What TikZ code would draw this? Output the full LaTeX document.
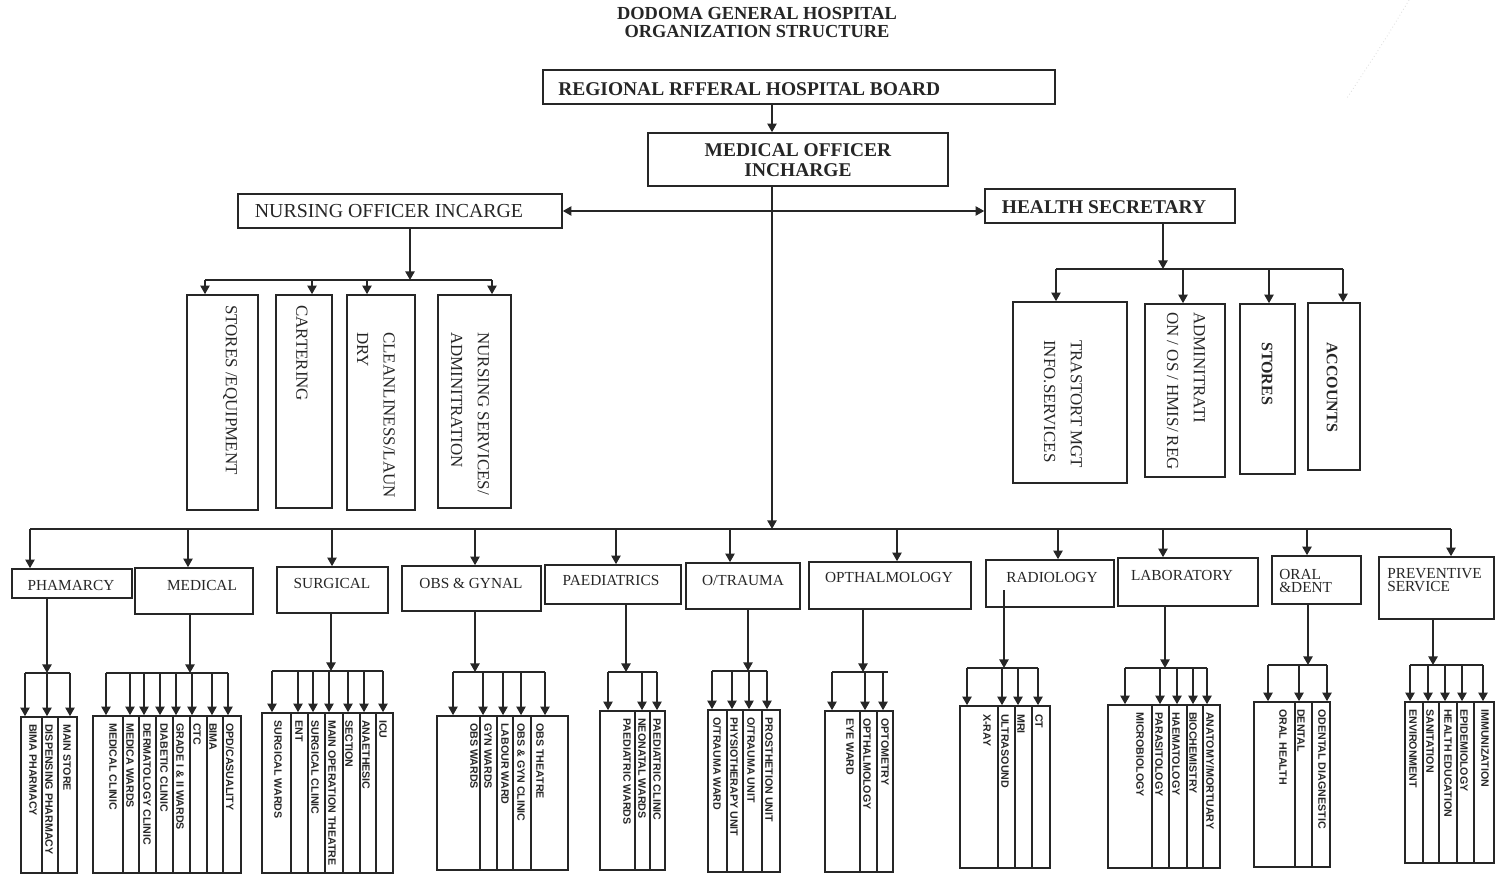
\documentclass[tikz,border=0pt]{standalone}
\usepackage{fontspec}
\setmainfont{Liberation Serif}
\newfontfamily\unitfont{Liberation Sans}
\usetikzlibrary{arrows.meta,fit}
\definecolor{ink}{HTML}{262626}

\begin{document}
\begin{tikzpicture}[x=0.75pt,y=0.75pt,yscale=-1,xscale=1,
  ln/.style={draw=ink,line width=1.2pt},
  arr/.style={ln,-{Triangle[length=6.5pt,width=7pt]}},
  dbl/.style={ln,{Triangle[length=6.5pt,width=7pt]}-{Triangle[length=6.5pt,width=7pt]}},
  box/.style={ln,inner sep=0pt,rectangle},
  head/.style={text=ink,inner sep=0pt,font=\fontsize{14.6}{15}\selectfont\bfseries},
  dept/.style={text=ink,inner sep=0pt,font=\fontsize{11.5}{10}\selectfont},
  vlbl/.style={text=ink,rotate=-90,anchor=west,align=left,inner sep=0pt,font=\fontsize{12.7}{20}\selectfont},
  unit/.style={text=ink,rotate=-90,anchor=west,inner sep=0pt,font=\unitfont\bfseries\fontsize{8}{9}\selectfont}]
%set diagram left start at 0, and has height of 877
\path[use as bounding box] (0,0) rectangle (1495,877);

% Text Node
\node[head,align=center,font=\fontsize{13.8}{13.5}\selectfont\bfseries] (title) at (757,23) {DODOMA GENERAL HOSPITAL\\ORGANIZATION STRUCTURE};
%faint pen mark
\draw[gray!30,line width=0.6pt,dotted] (1409,0) .. controls (1385,40) .. (1347,98);

%Shape: Rectangle [board]
\node[box,fit={(543,70) (1055,104)}] (board) {};
\node[head,anchor=west] (boardt) at (558,89) {REGIONAL RFFERAL HOSPITAL BOARD};
%Shape: Rectangle [medical officer]
\node[box,fit={(648,133) (948,186)}] (mo) {};
\node[head,align=center] (mot) at (798,160) {MEDICAL OFFICER\\INCHARGE};
%Shape: Rectangle [nursing officer]
\node[box,fit={(238,194) (562,228)}] (noic) {};
\node[text=ink,inner sep=0pt,font=\fontsize{14.9}{15}\selectfont] (noict) at (389,211) {NURSING OFFICER INCARGE};
%Shape: Rectangle [health secretary]
\node[box,fit={(985,189) (1235,223)}] (hs) {};
\node[head] (hst) at (1104,207) {HEALTH SECRETARY};

%Straight Lines [top]
\draw[arr] (772,0 |- board.south) -- (772,0 |- mo.north);
\draw[dbl] (noic.east |- 0,211) -- (hs.west |- 0,211);
\draw[arr] (772,0 |- mo.south) -- (772,529);

%Nursing side
\node[box,fit={(187,295) (258,510)}] (nu1) {};
\node[box,fit={(276,295) (332,508)}] (nu2) {};
\node[box,fit={(347,295) (415,510)}] (nu3) {};
\node[box,fit={(438,295) (511,508)}] (nu4) {};
\node[vlbl] (nu1t) at (230,305) {STORES /EQUIPMENT};
\node[vlbl] (nu2t) at (302,305) {CARTERING};
\node[vlbl] (nu3t) at (376,332) {CLEANLINESS/LAUN\\DRY};
\node[vlbl] (nu4t) at (470,332) {NURSING SERVICES/\\ADMINITRATION};
\draw[arr] (410,0 |- noic.south) -- (410,280);
\draw[ln] (205,280) -- (492,280);
\foreach \x [count=\i] in {205,312,367,492}
  \draw[arr] (\x,280) -- (\x,0 |- nu\i.north);

%Health secretary side
\node[box,fit={(1013,302) (1127,483)}] (hs1) {};
\node[box,fit={(1145,304) (1225,477)}] (hs2) {};
\node[box,fit={(1240,304) (1295,474)}] (hs3) {};
\node[box,fit={(1308,303) (1360,470)}] (hs4) {};
\node[vlbl] (hs1t) at (1063,340) {TRASTORT MGT\\INFO.SERVICES};
\node[vlbl] (hs2t) at (1186,312) {ADMINITRATI\\ON / OS / HMIS/ REG};
\node[vlbl,font=\fontsize{12}{20}\selectfont\bfseries] (hs3t) at (1267,342) {STORES};
\node[vlbl,font=\fontsize{12}{20}\selectfont\bfseries] (hs4t) at (1332,342) {ACCOUNTS};
\draw[arr] (1163,0 |- hs.south) -- (1163,269);
\draw[ln] (1056,269) -- (1343,269);
\foreach \x [count=\i] in {1056,1183,1269,1343}
  \draw[arr] (\x,269) -- (\x,0 |- hs\i.north);

%Departments
\node[box,fit={(12,569) (132,598)}] (pham) {};
\node[box,fit={(135,568) (253,614)}] (med) {};
\node[box,fit={(277,567) (388,613)}] (surg) {};
\node[box,fit={(402,566) (541,611)}] (obs) {};
\node[box,fit={(545,565) (681,604)}] (paed) {};
\node[box,fit={(686,563) (800,609)}] (otra) {};
\node[box,fit={(809,562) (971,609)}] (opth) {};
\node[box,fit={(986,560) (1114,607)}] (radio) {};
\node[box,fit={(1118,558) (1258,606)}] (lab) {};
\node[box,fit={(1272,556) (1361,604)}] (oral) {};
\node[box,fit={(1379,557) (1494,619)}] (prev) {};
% Text Node
\node[dept] (phamt) at (71,585) {PHAMARCY};
\node[dept] (medt) at (202,585) {MEDICAL};
\node[dept] (surgt) at (332,583) {SURGICAL};
\node[dept] (obst) at (471,583) {OBS \& GYNAL};
\node[dept] (paedt) at (611,580) {PAEDIATRICS};
\node[dept] (otrat) at (743,580) {O/TRAUMA};
\node[dept] (optht) at (889,577) {OPTHALMOLOGY};
\node[dept] (radiot) at (1052,577) {RADIOLOGY};
\node[dept] (labt) at (1182,575) {LABORATORY};
\node[dept,anchor=west,align=left] (oralt) at (1279,581) {ORAL\\\&DENT};
\node[dept,anchor=west,align=left] (prevt) at (1387,580) {PREVENTIVE\\SERVICE};
%Straight Lines [main bus]
\draw[ln] (30,529) -- (1451,529);
\foreach \x/\d in {30/pham,188/med,332/surg,475/obs,616/paed,730/otra,897/opth,1058/radio,1163/lab,1307/oral,1451/prev}
  \draw[arr] (\x,529) -- (\x,0 |- \d.north);

%Phamarcy units
\foreach \a/\b/\t/\s [count=\i] in {21/42/33/BIMA PHARMACY,42/58/49/DISPENSING PHARMACY,58/77/67/MAIN STORE}
{\node[box,fit={(\a,717) (\b,873)}] (ph\i) {};
 \node[unit] (pht\i) at (\t,724) {\s};}
\draw[arr] (47,0 |- pham.south) -- (47,673);
\draw[ln] (25,673) -- (70,673);
\foreach \x [count=\i] in {25,47,70}
  \draw[arr] (\x,673) -- (\x,0 |- ph\i.north);

%Medical units
\foreach \a/\b/\t/\s [count=\i] in {93/123/113/MEDICAL CLINIC,123/139/130/MEDICA WARDS,139/156/147/DERMATOLOGY CLINIC,156/173/164/DIABETIC CLINIC,173/190/180/GRADE I \& II WARDS,190/207/197/CTC,207/223/213/BIMA,223/241/230/{OPD/CASUALITY}}
{\node[box,fit={(\a,716) (\b,873)}] (me\i) {};
 \node[unit] (met\i) at (\t,723) {\s};}
\draw[arr] (190,0 |- med.south) -- (190,673);
\draw[ln] (106,673) -- (228,673);
\foreach \x [count=\i] in {106,130,144,160,176,192,212,228}
  \draw[arr] (\x,673) -- (\x,0 |- me\i.north);

%Surgical units
\foreach \a/\b/\t/\s [count=\i] in {262/291/278/SURGICAL WARDS,291/308/299/ENT,308/325/315/SURGICAL CLINIC,325/343/332/MAIN OPERATION THEATRE,343/360/349/SECTION,360/376/366/ANAETHESIC,376/393/383/ICU}
{\node[box,fit={(\a,713) (\b,873)}] (su\i) {};
 \node[unit] (sut\i) at (\t,720) {\s};}
\draw[arr] (331,0 |- surg.south) -- (331,671);
\draw[ln] (272,671) -- (383,671);
\foreach \x [count=\i] in {272,298,313,329,348,364,383}
  \draw[arr] (\x,671) -- (\x,0 |- su\i.north);

%Obs units
\foreach \a/\b/\t/\s [count=\i] in {437/480/474/OBS WARDS,480/497/488/GYN WARDS,497/513/505/LABOUR WARD,513/531/521/OBS \& GYN CLINIC,531/568/540/OBS THEATRE}
{\node[box,fit={(\a,716) (\b,870)}] (ob\i) {};
 \node[unit] (obt\i) at (\t,723) {\s};}
\draw[arr] (475,0 |- obs.south) -- (475,672);
\draw[ln] (453,672) -- (545,672);
\foreach \x [count=\i] in {453,483,503,521,545}
  \draw[arr] (\x,672) -- (\x,0 |- ob\i.north);

%Paediatric units
\foreach \a/\b/\t/\s [count=\i] in {600/635/627/PAEDIATRIC WARDS,635/650/642/NEONATAL WARDS,650/665/657/PAEDIATRIC CLINIC}
{\node[box,fit={(\a,711) (\b,870)}] (pa\i) {};
 \node[unit] (pat\i) at (\t,718) {\s};}
\draw[arr] (626,0 |- paed.south) -- (626,672);
\draw[ln] (608,672) -- (657,672);
\foreach \x [count=\i] in {608,642,657}
  \draw[arr] (\x,672) -- (\x,0 |- pa\i.north);

%O/trauma units
\foreach \a/\b/\t/\s [count=\i] in {708/727/717/{O/TRAUMA WARD},727/743/734/PHYSIOTHERAPY UNIT,743/762/751/{O/TRAUMA UNIT},762/780/769/PROSTHETION UNIT}
{\node[box,fit={(\a,710) (\b,872)}] (ot\i) {};
 \node[unit] (ott\i) at (\t,717) {\s};}
\draw[arr] (748,0 |- otra.south) -- (748,671);
\draw[ln] (712,671) -- (767,671);
\foreach \x [count=\i] in {712,732,749,767}
  \draw[arr] (\x,671) -- (\x,0 |- ot\i.north);

%Opthalmology units
\foreach \a/\b/\t/\s [count=\i] in {825/860/850/EYE WARD,860/877/867/OPTHALMOLOGY,877/893/885/OPTOMETRY}
{\node[box,fit={(\a,711) (\b,872)}] (op\i) {};
 \node[unit] (opt\i) at (\t,718) {\s};}
\draw[arr] (863,0 |- opth.south) -- (863,672);
\draw[ln] (832,672) -- (888,672);
\foreach \x [count=\i] in {832,865,883}
  \draw[arr] (\x,672) -- (\x,0 |- op\i.north);

%Radiology units
\foreach \a/\b/\t/\s [count=\i] in {960/998/987/X-RAY,998/1015/1005/ULTRASOUND,1015/1032/1021/MRI,1032/1050/1039/CT}
{\node[box,fit={(\a,706) (\b,868)}] (ra\i) {};
 \node[unit] (rat\i) at (\t,714) {\s};}
\coordinate (radstem) at (1004,590);
\draw[arr] (radstem) -- (1004,668);
\draw[ln] (967,668) -- (1038,668);
\foreach \x [count=\i] in {967,1002,1018,1038}
  \draw[arr] (\x,668) -- (\x,0 |- ra\i.north);

%Laboratory units
\foreach \a/\b/\t/\s [count=\i] in {1108/1152/1140/MICROBIOLOGY,1152/1169/1159/PARASITOLOGY,1169/1187/1176/HAEMATOLOGY,1187/1203/1193/BIOCHEMISTRY,1203/1220/1210/{ANATOMY/MORTUARY}}
{\node[box,fit={(\a,705) (\b,868)}] (la\i) {};
 \node[unit] (lat\i) at (\t,712) {\s};}
\draw[arr] (1165,0 |- lab.south) -- (1165,668);
\draw[ln] (1125,668) -- (1207,668);
\foreach \x [count=\i] in {1125,1160,1177,1193,1207}
  \draw[arr] (\x,668) -- (\x,0 |- la\i.north);

%Oral units
\foreach \a/\b/\t/\s [count=\i] in {1254/1295/1283/ORAL HEALTH,1295/1312/1301/DENTAL,1312/1330/1322/ODENTAL DIAGNESTIC}
{\node[box,fit={(\a,702) (\b,867)}] (or\i) {};
 \node[unit] (ort\i) at (\t,709) {\s};}
\draw[arr] (1308,0 |- oral.south) -- (1308,665);
\draw[ln] (1268,665) -- (1327,665);
\foreach \x [count=\i] in {1268,1299,1327}
  \draw[arr] (\x,665) -- (\x,0 |- or\i.north);

%Preventive units
\foreach \a/\b/\t/\s [count=\i] in {1405/1423/1413/ENVIRONMENT,1423/1439/1430/SANITATION,1439/1457/1448/HEALTH EDUCATION,1457/1474/1464/EPIDEMIOLOGY,1474/1494/1485/IMMUNIZATION}
{\node[box,fit={(\a,702) (\b,863)}] (pr\i) {};
 \node[unit] (prt\i) at (\t,709) {\s};}
\draw[arr] (1433,0 |- prev.south) -- (1433,665);
\draw[ln] (1410,665) -- (1483,665);
\foreach \x [count=\i] in {1410,1428,1445,1462,1483}
  \draw[arr] (\x,665) -- (\x,0 |- pr\i.north);

\end{tikzpicture}
\end{document}
